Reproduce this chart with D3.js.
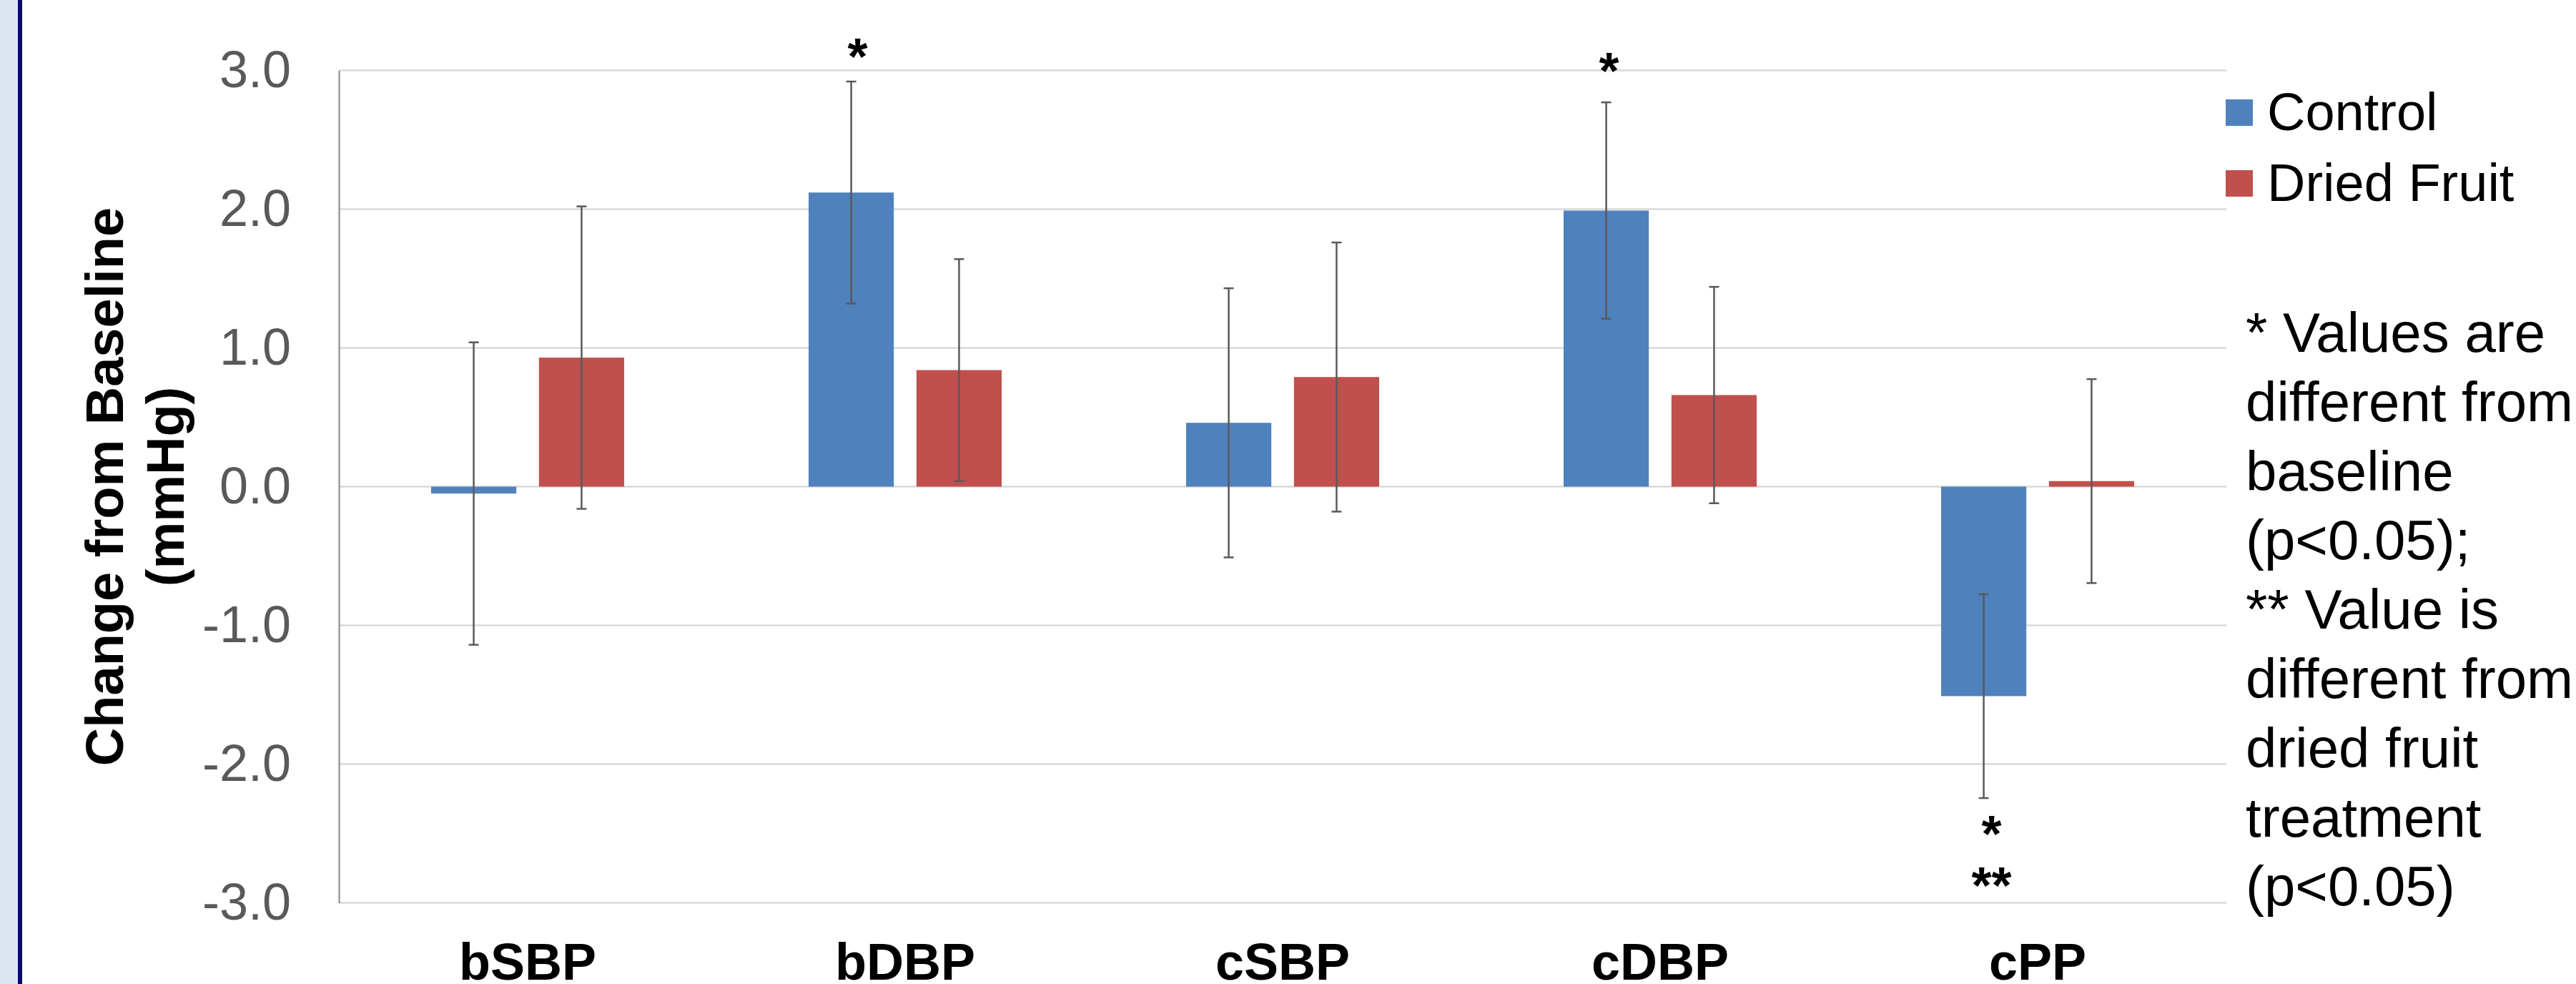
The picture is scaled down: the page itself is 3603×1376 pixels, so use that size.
<!DOCTYPE html>
<html>
<head>
<meta charset="utf-8">
<script src="https://cdn.jsdelivr.net/npm/d3@7"></script>
<style>
  body { margin: 0; background: #ffffff; }
  svg text { font-family: "Liberation Sans", Arial, sans-serif; }
</style>
</head>
<body>
<div id="chart"></div>
<script>
  // chart data
  var categories = ["bSBP", "bDBP", "cSBP", "cDBP", "cPP"];
  var seriesNames = ["Control", "Dried Fruit"];
  var seriesColors = ["#4f81bd", "#c0504d"];
  var controlValues = [-0.05, 2.12, 0.46, 1.99, -1.51];
  var controlErrors = [1.09, 0.80, 0.97, 0.78, 0.735];
  var driedValues = [0.93, 0.84, 0.79, 0.66, 0.04];
  var driedErrors = [1.09, 0.80, 0.97, 0.78, 0.735];
  var yTicks = [-3, -2, -1, 0, 1, 2, 3];
  // significance marks: category, series, text, value where the mark sits
  var marks = [
    { cat: "bDBP", series: "Control", text: "*", v: 2.97, dx: 9 },
    { cat: "cDBP", series: "Control", text: "*", v: 2.87, dx: 4 },
    { cat: "cPP", series: "Control", text: "*", v: -2.63, dx: 11 },
    { cat: "cPP", series: "Control", text: "**", v: -3.0, dx: 11 }
  ];
  var noteLines = ["* Values are", "different from", "baseline", "(p<0.05);",
    "** Value is", "different from", "dried fruit", "treatment", "(p<0.05)"];

  var width = 3603, height = 1376;
  var plot = { left: 474, right: 3114, top: 98.5, bottom: 1262.5 };

  var svg = d3.select("#chart").append("svg")
    .attr("width", width)
    .attr("height", height);

  // left panel edge
  svg.append("rect").attr("x", 0).attr("y", 0).attr("width", 25).attr("height", height).attr("fill", "#dce6f2");
  svg.append("rect").attr("x", 25).attr("y", 0).attr("width", 6).attr("height", height).attr("fill", "#0a0a6e");

  var x0 = d3.scaleBand().domain(categories).range([plot.left, plot.right]).padding(0);
  var x1 = d3.scaleBand().domain(seriesNames).range([0, x0.bandwidth()])
    .paddingInner(0.21).paddingOuter(0.855);
  var y = d3.scaleLinear().domain([-3, 3]).range([plot.bottom, plot.top]);

  var data = [];
  categories.forEach(function (c, i) {
    data.push({ cat: c, series: "Control", value: controlValues[i], err: controlErrors[i] });
    data.push({ cat: c, series: "Dried Fruit", value: driedValues[i], err: driedErrors[i] });
  });

  // gridlines
  svg.append("g").selectAll("line").data(yTicks).enter().append("line")
    .attr("x1", plot.left).attr("x2", plot.right)
    .attr("y1", function (d) { return y(d); })
    .attr("y2", function (d) { return y(d); })
    .attr("stroke", "#d9d9d9").attr("stroke-width", 2.5);

  // y axis (plain hyphen for negatives, like the original)
  var yAxis = d3.axisLeft(y).tickValues(yTicks).tickSize(0).tickPadding(67)
    .tickFormat(function (d) { return d.toFixed(1); });
  var ya = svg.append("g").attr("transform", "translate(" + plot.left + ",0)").call(yAxis);
  ya.select(".domain").attr("stroke", "#868686").attr("stroke-width", 2);
  ya.selectAll("text")
    .style("font-family", "'Liberation Sans', Arial, sans-serif")
    .style("font-size", "72px")
    .attr("fill", "#595959");

  // y title
  var yt = svg.append("text")
    .attr("transform", "translate(0," + y(0) + ") rotate(-90)")
    .attr("text-anchor", "middle")
    .style("font-size", "74px").style("font-weight", "bold").attr("fill", "#000");
  yt.append("tspan").attr("x", 0).attr("y", 172).text("Change from Baseline");
  yt.append("tspan").attr("x", 0).attr("y", 257).text("(mmHg)");

  // bars
  var color = d3.scaleOrdinal().domain(seriesNames).range(seriesColors);
  svg.append("g").selectAll("rect").data(data).enter().append("rect")
    .attr("x", function (d) { return x0(d.cat) + x1(d.series); })
    .attr("width", x1.bandwidth())
    .attr("y", function (d) { return Math.min(y(d.value), y(0)); })
    .attr("height", function (d) { return Math.abs(y(d.value) - y(0)); })
    .attr("fill", function (d) { return color(d.series); });

  // error bars
  var eb = svg.append("g").selectAll("g").data(data).enter().append("g")
    .attr("stroke", "#595959").attr("stroke-width", 2.5);
  function cx(d) { return x0(d.cat) + x1(d.series) + x1.bandwidth() / 2; }
  eb.append("line")
    .attr("x1", cx).attr("x2", cx)
    .attr("y1", function (d) { return y(d.value + d.err); })
    .attr("y2", function (d) { return y(d.value - d.err); });
  [1, -1].forEach(function (s) {
    eb.append("line")
      .attr("x1", function (d) { return cx(d) - 7; })
      .attr("x2", function (d) { return cx(d) + 7; })
      .attr("y1", function (d) { return y(d.value + s * d.err); })
      .attr("y2", function (d) { return y(d.value + s * d.err); });
  });

  // significance marks
  svg.append("g").selectAll("text").data(marks).enter().append("text")
    .attr("x", function (d) { return x0(d.cat) + x1(d.series) + x1.bandwidth() / 2 + d.dx; })
    .attr("y", function (d) { return y(d.v); })
    .attr("text-anchor", "middle")
    .style("font-size", "72px").style("font-weight", "bold").attr("fill", "#000")
    .text(function (d) { return d.text; });

  // category labels
  svg.append("g").selectAll("text").data(categories).enter().append("text")
    .attr("x", function (d) { return x0(d) + x0.bandwidth() / 2; })
    .attr("y", 1370)
    .attr("text-anchor", "middle")
    .style("font-size", "72px").style("font-weight", "bold").attr("fill", "#000")
    .text(function (d) { return d; });

  // legend
  var lg = svg.append("g").selectAll("g").data(seriesNames).enter().append("g")
    .attr("transform", function (d, i) { return "translate(3113," + (139 + i * 99) + ")"; });
  lg.append("rect").attr("width", 38).attr("height", 37)
    .attr("fill", function (d) { return color(d); });
  lg.append("text").attr("x", 58).attr("y", 43)
    .style("font-size", "74px").attr("fill", "#000")
    .text(function (d) { return d; });

  // footnote
  svg.append("g").selectAll("text").data(noteLines).enter().append("text")
    .attr("x", 3141)
    .attr("y", function (d, i) { return 492 + i * 96.8; })
    .style("font-size", "78px").attr("fill", "#000")
    .text(function (d) { return d; });
</script>
</body>
</html>
